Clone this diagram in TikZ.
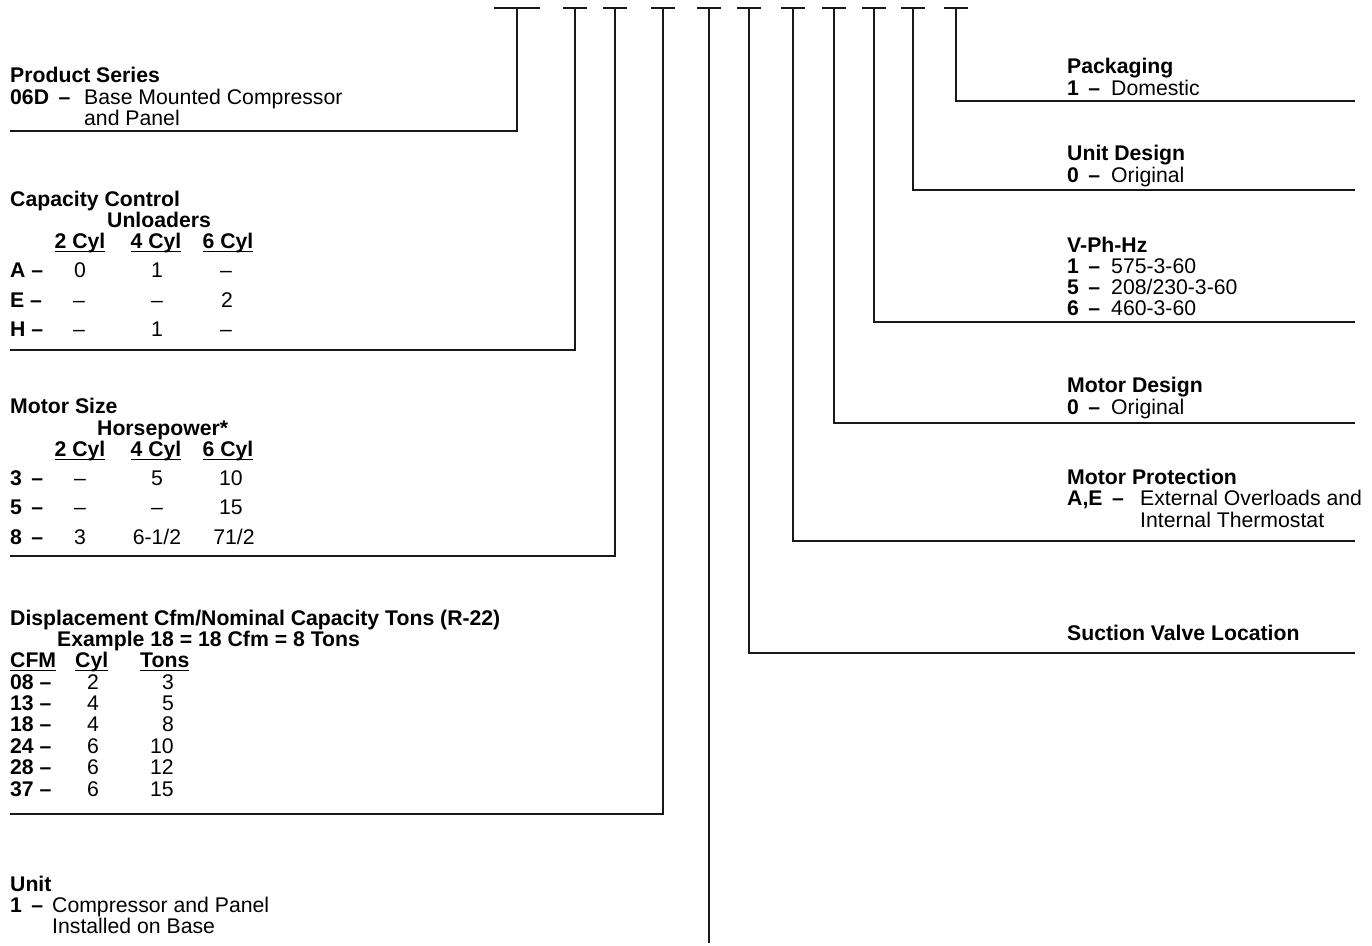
\documentclass[tikz,border=0pt]{standalone}
\usepackage{fontspec}
\setmainfont{Liberation Sans}
\newcommand\fs{\fontsize{21.3}{21.3}\selectfont}
\newcommand\ulx[1]{\leavevmode\setbox0=\hbox{#1}\copy0\llap{\rule[-4pt]{\wd0}{1.4pt}}}
\tikzset{
  lbl/.style={anchor=base west, inner sep=0pt, font=\fs\bfseries},
  txt/.style={anchor=base west, inner sep=0pt, font=\fs},
  cval/.style={anchor=base, inner sep=0pt, font=\fs},
  rval/.style={anchor=base east, inner sep=0pt, font=\fs},
  hd/.style={anchor=base, inner sep=0pt, font=\fs\bfseries},
  conn/.style={line width=1.8bp, draw=black!90},
}
\begin{document}
\begin{tikzpicture}[x=1bp, y={(0bp,-1bp)}]
\useasboundingbox (0,0) rectangle (1372,945);
% T markers
\foreach \n/\x/\w in {t1/517/23, t2/575/12, t3/615/12, t4/663/12, t5/709/12, t6/749/12, t7/793/12, t8/834/12, t9/874/12, t10/913/12, t11/956/12}{
  \coordinate (\n) at (\x,8);
  \draw[conn] ([xshift=-\w bp]\n) -- ([xshift=\w bp]\n);
}
% end coordinates of connectors
\coordinate (e1) at (10,131);
\coordinate (e2) at (10,350);
\coordinate (e3) at (10,556);
\coordinate (e4) at (10,814);
\coordinate (e5) at (709,943);
\coordinate (e6) at (1355,653);
\coordinate (e7) at (1355,541);
\coordinate (e8) at (1355,423);
\coordinate (e9) at (1355,322);
\coordinate (e10) at (1355,190);
\coordinate (e11) at (1355,101);
\draw[conn] (t1) |- (e1);
\draw[conn] (t2) |- (e2);
\draw[conn] (t3) |- (e3);
\draw[conn] (t4) |- (e4);
\draw[conn] (t5) -- (e5);
\draw[conn] (t6) |- (e6);
\draw[conn] (t7) |- (e7);
\draw[conn] (t8) |- (e8);
\draw[conn] (t9) |- (e9);
\draw[conn] (t10) |- (e10);
\draw[conn] (t11) |- (e11);

% Product Series
\node[lbl] (ps) at (10,82) {Product Series};
\node[lbl] (ps1) at (10,104) {06D \,--};
\node[txt] (ps1t) at (84,104) {Base Mounted Compressor};
\node[txt] (ps2t) at (84,125) {and Panel};

% Capacity Control
\node[lbl] (cc) at (10,206) {Capacity Control};
\node[lbl] (ccu) at (107,227) {Unloaders};
\node[hd] (cch2) at (80,248) {\ulx{2 Cyl}};
\node[hd] (cch4) at (156,248) {\ulx{4 Cyl}};
\node[hd] (cch6) at (228,248) {\ulx{6 Cyl}};
\node[lbl] (cca) at (10,277) {A --};
\node[lbl] (cce) at (10,307) {E --};
\node[lbl] (cch) at (10,336) {H --};
\node[cval] at (80,277) {0};
\node[cval] at (157,277) {1};
\node[cval] at (226,277) {--};
\node[cval] at (79,307) {--};
\node[cval] at (157,307) {--};
\node[cval] at (227,307) {2};
\node[cval] at (79,336) {--};
\node[cval] at (157,336) {1};
\node[cval] at (226,336) {--};

% Motor Size
\node[lbl] (ms) at (10,413) {Motor Size};
\node[lbl] (msh) at (97,435) {Horsepower*};
\node[hd] (msh2) at (80,456) {\ulx{2 Cyl}};
\node[hd] (msh4) at (156,456) {\ulx{4 Cyl}};
\node[hd] (msh6) at (228,456) {\ulx{6 Cyl}};
\node[lbl] (ms3) at (10,485) {3 \,--};
\node[lbl] (ms5) at (10,514) {5 \,--};
\node[lbl] (ms8) at (10,544) {8 \,--};
\node[cval] at (80,485) {--};
\node[cval] at (157,485) {5};
\node[cval] at (231,485) {10};
\node[cval] at (80,514) {--};
\node[cval] at (157,514) {--};
\node[cval] at (231,514) {15};
\node[cval] at (80,544) {3};
\node[cval] at (157,544) {6-1/2};
\node[cval] at (234,544) {71/2};

% Displacement
\node[lbl] (dc) at (10,625) {Displacement Cfm/Nominal Capacity Tons (R-22)};
\node[lbl] (dce) at (57,646) {Example 18 = 18 Cfm = 8 Tons};
\node[lbl] (dch1) at (10,667) {\ulx{CFM}};
\node[lbl] (dch2) at (75,667) {\ulx{Cyl}};
\node[lbl] (dch3) at (140,667) {\ulx{Tons}};
\foreach \c/\cy/\t/\y in {08/2/3/689, 13/4/5/710, 18/4/8/731, 24/6/10/753, 28/6/12/774, 37/6/15/796}{
  \node[lbl] at (10,\y) {\c\ --};
  \node[cval] at (93,\y) {\cy};
  \node[rval] at (174,\y) {\t};
}

% Unit
\node[lbl] (un) at (10,891) {Unit};
\node[lbl] (un1) at (10,912) {1 \,--};
\node[txt] (un1t) at (52,912) {Compressor and Panel};
\node[txt] (un2t) at (52,933) {Installed on Base};

% Right side
\node[lbl] (pk) at (1067,73) {Packaging};
\node[lbl] (pk1) at (1067,95) {1 \,--};
\node[txt] (pk1t) at (1111,95) {Domestic};

\node[lbl] (ud) at (1067,160) {Unit Design};
\node[lbl] (ud1) at (1067,182) {0 \,--};
\node[txt] (ud1t) at (1111,182) {Original};

\node[lbl] (vp) at (1067,252) {V-Ph-Hz};
\node[lbl] (vp1) at (1067,273) {1 \,--};
\node[txt] (vp1t) at (1111,273) {575-3-60};
\node[lbl] (vp5) at (1067,294) {5 \,--};
\node[txt] (vp5t) at (1111,294) {208/230-3-60};
\node[lbl] (vp6) at (1067,315) {6 \,--};
\node[txt] (vp6t) at (1111,315) {460-3-60};

\node[lbl] (md) at (1067,392) {Motor Design};
\node[lbl] (md1) at (1067,414) {0 \,--};
\node[txt] (md1t) at (1111,414) {Original};

\node[lbl] (mp) at (1067,484) {Motor Protection};
\node[lbl] (mp1) at (1067,505) {A,E \,--};
\node[txt] (mp1t) at (1140,505) {External Overloads and};
\node[txt] (mp2t) at (1140,527) {Internal Thermostat};

\node[lbl] (sv) at (1067,640) {Suction Valve Location};
\end{tikzpicture}
\end{document}
